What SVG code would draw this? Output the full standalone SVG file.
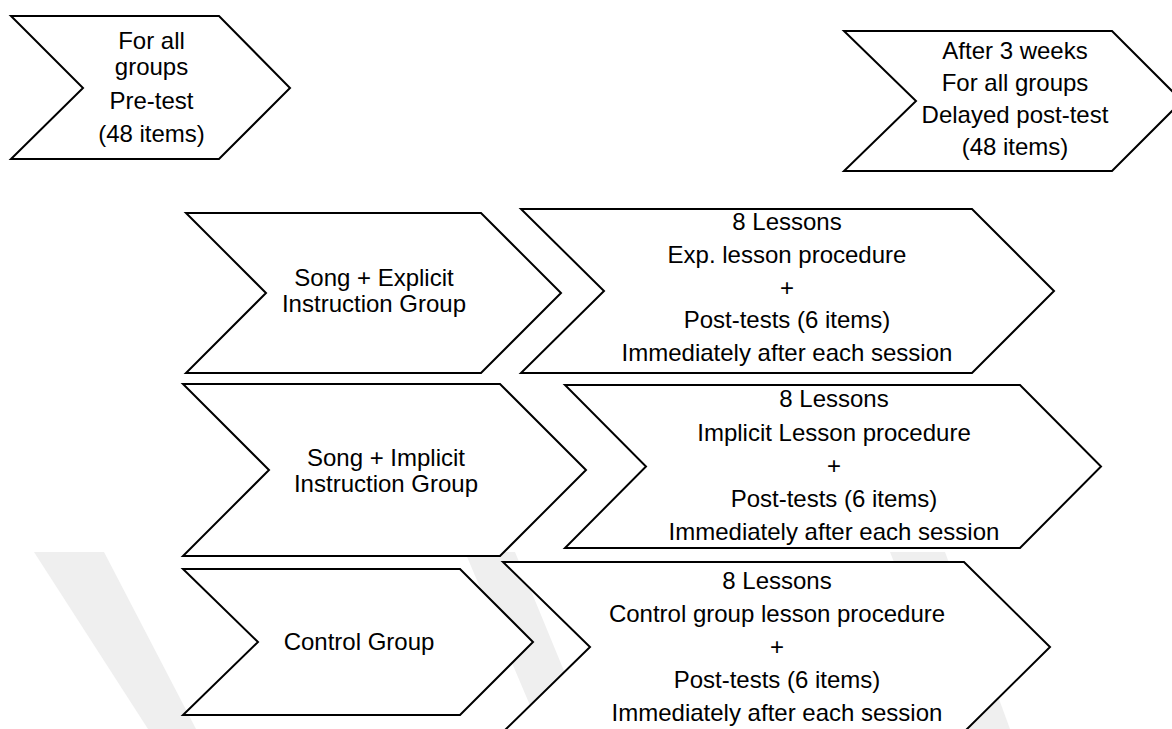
<svg xmlns="http://www.w3.org/2000/svg" width="1172" height="729" viewBox="0 0 1172 729">
<style>
.s{fill:#fff;stroke:#000;stroke-width:2;stroke-linejoin:miter}
.t{font-family:"Liberation Sans",Arial,sans-serif;font-size:24px;fill:#000;text-anchor:middle}
.w{fill:#efefef}
</style>
<rect width="1172" height="729" fill="#fff"/>
<g id="watermark">
<polygon class="w" points="34,552 104,552 196,729 148,729"/>
<polygon class="w" points="465,552 515,552 588,729 540,729"/>
<polygon class="w" points="890,552 945,552 1010,729 960,729"/>
</g>
<g id="connectors"></g>
<g id="pretest">
<polygon class="s" points="11,16 219,16 290,88 219,159 11,159 83,88"/>
<text class="t" x="151.5" y="49">For all</text>
<text class="t" x="151.5" y="75">groups</text>
<text class="t" x="151.5" y="109">Pre-test</text>
<text class="t" x="151.5" y="142">(48 items)</text>
</g>
<g id="delayed">
<polygon class="s" points="844,31 1112,31 1182,101 1112,171 844,171 916,101"/>
<text class="t" x="1015" y="59">After 3 weeks</text>
<text class="t" x="1015" y="91">For all groups</text>
<text class="t" x="1015" y="123">Delayed post-test</text>
<text class="t" x="1015" y="155">(48 items)</text>
</g>
<g id="explicit-group">
<polygon class="s" points="186,213 481,213 561,293 481,373 186,373 266,293"/>
<text class="t" x="374" y="286">Song + Explicit</text>
<text class="t" x="374" y="312">Instruction Group</text>
</g>
<g id="explicit-lessons">
<polygon class="s" points="521,209 972,209 1054,291 972,373 521,373 604,291"/>
<text class="t" x="787" y="230">8 Lessons</text>
<text class="t" x="787" y="263">Exp. lesson procedure</text>
<text class="t" x="787" y="296">+</text>
<text class="t" x="787" y="328">Post-tests (6 items)</text>
<text class="t" x="787" y="361">Immediately after each session</text>
</g>
<g id="implicit-group">
<polygon class="s" points="183,384 500,384 586,470 500,556 183,556 269,470"/>
<text class="t" x="386" y="466">Song + Implicit</text>
<text class="t" x="386" y="492">Instruction Group</text>
</g>
<g id="implicit-lessons">
<polygon class="s" points="565,385 1020,385 1101,466.5 1020,548 565,548 646,466.5"/>
<text class="t" x="834" y="407">8 Lessons</text>
<text class="t" x="834" y="441">Implicit Lesson procedure</text>
<text class="t" x="834" y="474">+</text>
<text class="t" x="834" y="507">Post-tests (6 items)</text>
<text class="t" x="834" y="540">Immediately after each session</text>
</g>
<g id="control-group">
<polygon class="s" points="183,569 460,569 533,642 460,715 183,715 258,642"/>
<text class="t" x="359" y="650">Control Group</text>
</g>
<g id="control-lessons">
<polygon class="s" points="503,562 964,562 1050,647 964,732 503,732 590,647"/>
<text class="t" x="777" y="589">8 Lessons</text>
<text class="t" x="777" y="622">Control group lesson procedure</text>
<text class="t" x="777" y="655">+</text>
<text class="t" x="777" y="688">Post-tests (6 items)</text>
<text class="t" x="777" y="721">Immediately after each session</text>
</g>
</svg>
